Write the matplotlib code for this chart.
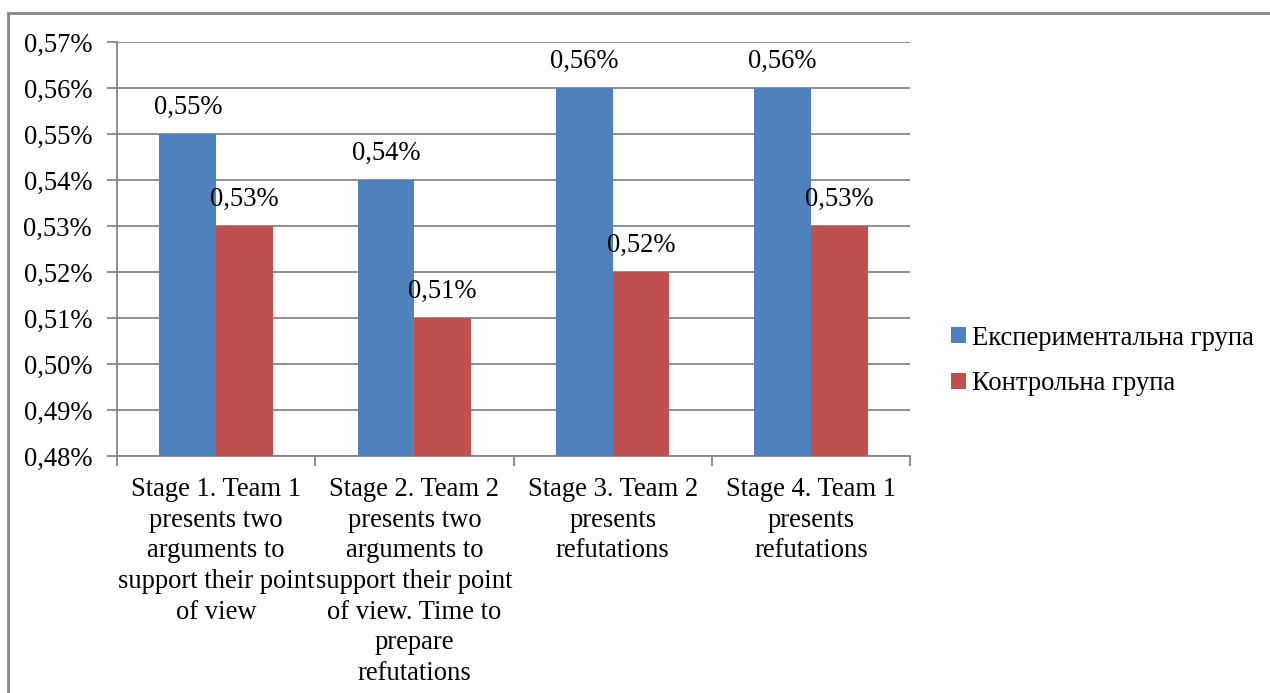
import matplotlib
matplotlib.use("Agg")
import matplotlib.pyplot as plt
from matplotlib.patches import Rectangle
import numpy as np

plt.rcParams["font.family"] = ["Liberation Serif", "DejaVu Serif"]

CATEGORIES = [
    "Stage 1. Team 1\npresents two\narguments to\nsupport their point\nof view",
    "Stage 2. Team 2\npresents two\narguments to\nsupport their point\nof view. Time to\nprepare\nrefutations",
    "Stage 3. Team 2\npresents\nrefutations",
    "Stage 4. Team 1\npresents\nrefutations",
]
EXPERIMENTAL = [0.55, 0.54, 0.56, 0.56]
CONTROL = [0.53, 0.51, 0.52, 0.53]
SERIES_NAMES = ["Експериментальна група", "Контрольна група"]
Y_TICKS = [0.48, 0.49, 0.50, 0.51, 0.52, 0.53, 0.54, 0.55, 0.56, 0.57]

BLUE = "#4F81BD"
RED = "#C0504D"
GRID = "#868686"
FS = 19.2


def pct_label(v):
    return f"{v:.2f}%".replace(".", ",")


fig = plt.figure(figsize=(12.7, 6.93), dpi=100)
ax = fig.add_axes([117 / 1270, 1 - 456 / 693, (910 - 117) / 1270, (456 - 42) / 693])

x = np.arange(len(CATEGORIES))
width = 1 / 3.5
b1 = ax.bar(x - width / 2, EXPERIMENTAL, width, color=BLUE, label=SERIES_NAMES[0], zorder=3)
b2 = ax.bar(x + width / 2, CONTROL, width, color=RED, label=SERIES_NAMES[1], zorder=3)

for bars, vals in [(b1, EXPERIMENTAL), (b2, CONTROL)]:
    for bar, v in zip(bars, vals):
        ax.annotate(pct_label(v), (bar.get_x() + bar.get_width() / 2, v),
                    xytext=(0, 10), textcoords="offset points",
                    ha="center", va="bottom", fontsize=FS, zorder=4)

ax.set_xlim(-0.5, len(CATEGORIES) - 0.5)
ax.set_ylim(Y_TICKS[0], Y_TICKS[-1])
ax.set_yticks(Y_TICKS)
ax.set_yticklabels([pct_label(v) for v in Y_TICKS], fontsize=FS)
ax.yaxis.grid(True, color=GRID, linewidth=1.3, zorder=0)

# category ticks at group boundaries, labels centred
ax.set_xticks(np.arange(-0.5, len(CATEGORIES)), minor=False)
ax.set_xticklabels([])
ax.set_xticks(x, minor=True)
ax.set_xticklabels(CATEGORIES, minor=True, fontsize=FS, linespacing=1.3, va="top")
ax.tick_params(axis="x", which="minor", length=0, pad=15)
ax.tick_params(axis="x", which="major", length=7, color=GRID, width=1.3)
ax.tick_params(axis="y", length=7, color=GRID, width=1.3, pad=11)

for side in ["top", "right"]:
    ax.spines[side].set_visible(False)
for side in ["left", "bottom"]:
    ax.spines[side].set_color(GRID)
    ax.spines[side].set_linewidth(1.3)

leg = fig.legend(handles=[b1, b2], loc="center left", bbox_to_anchor=(927 / 1270, 1 - 361 / 693),
                 frameon=False, fontsize=FS, handlelength=0.55, handleheight=0.55,
                 handletextpad=0.25, labelspacing=0.78)

# outer chart border (left and top visible, rest runs off the image)
fig.add_artist(Rectangle((8 / 1270, -0.1), 1.1, 1 - 13 / 693 + 0.1,
                         transform=fig.transFigure, fill=False,
                         edgecolor=GRID, linewidth=2))

fig.savefig("out.png", dpi=100)
